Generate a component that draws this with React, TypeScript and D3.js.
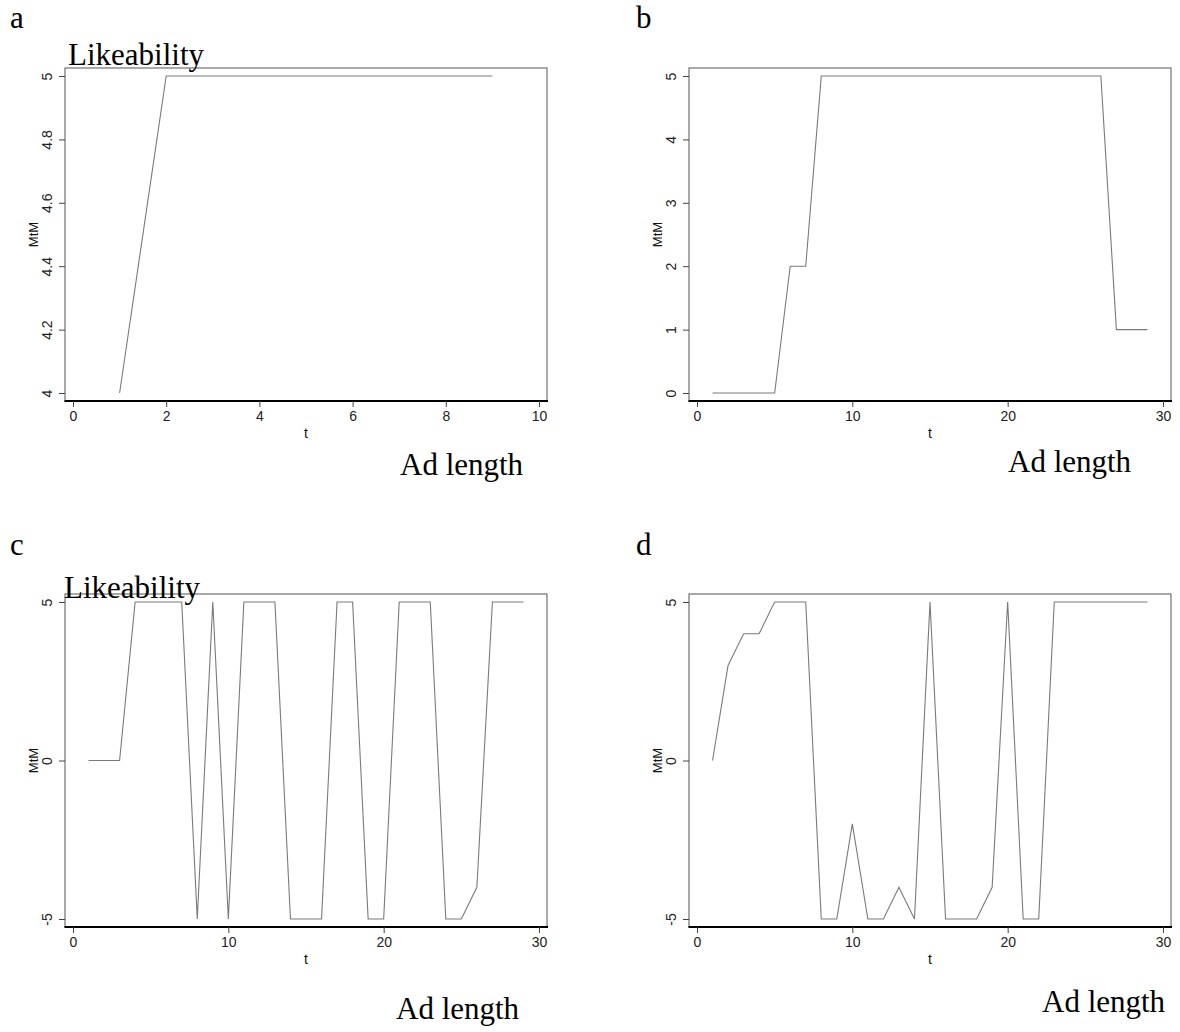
import React, { useEffect, useRef } from "react";
import * as d3 from "d3";

// MtM values per second (t = 1, 2, 3, ...)
const panelAValues = [4, 5, 5, 5, 5, 5, 5, 5, 5];
const panelBValues = [
  0, 0, 0, 0, 0, 2, 2, 5, 5, 5, 5, 5, 5, 5, 5, 5, 5, 5, 5, 5, 5, 5, 5, 5, 5, 5, 1, 1, 1,
];
const panelCValues = [
  0, 0, 0, 5, 5, 5, 5, -5, 5, -5, 5, 5, 5, -5, -5, -5, 5, 5, -5, -5, 5, 5, 5, -5, -5, -4, 5, 5, 5,
];
const panelDValues = [
  0, 3, 4, 4, 5, 5, 5, -5, -5, -2, -5, -5, -4, -5, 5, -5, -5, -5, -4, 5, -5, -5, 5, 5, 5, 5, 5, 5, 5,
];

const xTicksA = [0, 2, 4, 6, 8, 10];
const xTicksLong = [0, 10, 20, 30];
const yTicksA = [4, 4.2, 4.4, 4.6, 4.8, 5];
const yTicksB = [0, 1, 2, 3, 4, 5];
const yTicksCD = [-5, 0, 5];

const panels = [
  {
    letter: "a", values: panelAValues, xTicks: xTicksA, yTicks: yTicksA,
    left: 65, top: 68, letterPos: [10, 28], like: [68, 65], ad: [400, 475],
  },
  {
    letter: "b", values: panelBValues, xTicks: xTicksLong, yTicks: yTicksB,
    left: 689, top: 68, letterPos: [636, 28], like: null, ad: [1008, 472],
  },
  {
    letter: "c", values: panelCValues, xTicks: xTicksLong, yTicks: yTicksCD,
    left: 65, top: 594, letterPos: [10, 555], like: [64, 598], ad: [396, 1019],
  },
  {
    letter: "d", values: panelDValues, xTicks: xTicksLong, yTicks: yTicksCD,
    left: 689, top: 594, letterPos: [636, 555], like: null, ad: [1042, 1012],
  },
];

export default function App() {
  const svgRef = useRef(null);

  useEffect(() => {
    const width = 1180;
    const height = 1032;
    const boxW = 482;
    const boxH = 333;
    const pad = 8;
    const serif = "'Liberation Serif', 'Times New Roman', serif";
    const sans = "'Liberation Sans', Arial, sans-serif";

    const svg = d3.select(svgRef.current);
    svg.selectAll("*").remove();
    svg.attr("width", width).attr("height", height).attr("viewBox", [0, 0, width, height]);

    svg.append("rect").attr("width", width).attr("height", height).attr("fill", "white");

    panels.forEach((p) => {
      const g = svg.append("g");
      const right = p.left + boxW;
      const bottom = p.top + boxH;

      const x = d3
        .scaleLinear()
        .domain([p.xTicks[0], p.xTicks[p.xTicks.length - 1]])
        .range([p.left + pad, right - pad]);
      const y = d3
        .scaleLinear()
        .domain([p.yTicks[0], p.yTicks[p.yTicks.length - 1]])
        .range([bottom - pad, p.top + pad]);

      // data line
      const line = d3
        .line<number>()
        .x((d, i) => x(i + 1))
        .y((d) => y(d));
      g.append("path")
        .datum(p.values)
        .attr("d", line)
        .attr("fill", "none")
        .attr("stroke", "#7a7a7a")
        .attr("stroke-width", 1.1);

      // box
      g.append("rect")
        .attr("x", p.left)
        .attr("y", p.top)
        .attr("width", boxW)
        .attr("height", boxH)
        .attr("fill", "none")
        .attr("stroke", "#555")
        .attr("stroke-width", 1);

      // thick bottom axis line
      g.append("line")
        .attr("x1", p.left - 0.5)
        .attr("x2", right + 1)
        .attr("y1", bottom)
        .attr("y2", bottom)
        .attr("stroke", "#000")
        .attr("stroke-width", 2);

      // x axis
      const xAxis = g
        .append("g")
        .attr("transform", `translate(0,${bottom})`)
        .call(d3.axisBottom(x).tickValues(p.xTicks).tickSize(6).tickPadding(4).tickFormat((d) => String(d)));
      xAxis.select(".domain").remove();
      xAxis.selectAll(".tick line").attr("stroke", "#444");
      xAxis
        .selectAll(".tick text")
        .attr("font-family", sans)
        .attr("font-size", 14)
        .attr("fill", "#222")
        .attr("dy", "0.71em");

      // y axis
      const yAxis = g
        .append("g")
        .attr("transform", `translate(${p.left},0)`)
        .call(d3.axisLeft(y).tickValues(p.yTicks).tickSize(6).tickFormat((d) => String(d)));
      yAxis.select(".domain").remove();
      yAxis.selectAll(".tick line").attr("stroke", "#444");
      yAxis
        .selectAll(".tick text")
        .attr("font-family", sans)
        .attr("font-size", 14)
        .attr("fill", "#222")
        .attr("x", null)
        .attr("dy", null)
        .attr("text-anchor", "middle")
        .attr("transform", "translate(-18,0) rotate(-90)")
        .attr("dominant-baseline", "central");

      // axis titles
      g.append("text")
        .attr("transform", `translate(${p.left - 32},${(p.top + bottom) / 2}) rotate(-90)`)
        .attr("text-anchor", "middle")
        .attr("dominant-baseline", "central")
        .attr("font-family", sans)
        .attr("font-size", 13)
        .attr("fill", "#111")
        .text("MtM");
      g.append("text")
        .attr("x", (p.left + right) / 2)
        .attr("y", bottom + 37)
        .attr("text-anchor", "middle")
        .attr("font-family", sans)
        .attr("font-size", 14)
        .attr("fill", "#111")
        .text("t");

      // annotations
      g.append("text")
        .attr("x", p.letterPos[0])
        .attr("y", p.letterPos[1])
        .attr("font-family", serif)
        .attr("font-size", 31)
        .text(p.letter);
      if (p.like) {
        g.append("text")
          .attr("x", p.like[0])
          .attr("y", p.like[1])
          .attr("font-family", serif)
          .attr("font-size", 31)
          .text("Likeability");
      }
      g.append("text")
        .attr("x", p.ad[0])
        .attr("y", p.ad[1])
        .attr("font-family", serif)
        .attr("font-size", 31)
        .text("Ad length");
    });
  }, []);

  return (
    <svg
      ref={svgRef}
      style={{ position: "absolute", left: 0, top: 0, display: "block" }}
    ></svg>
  );
}
